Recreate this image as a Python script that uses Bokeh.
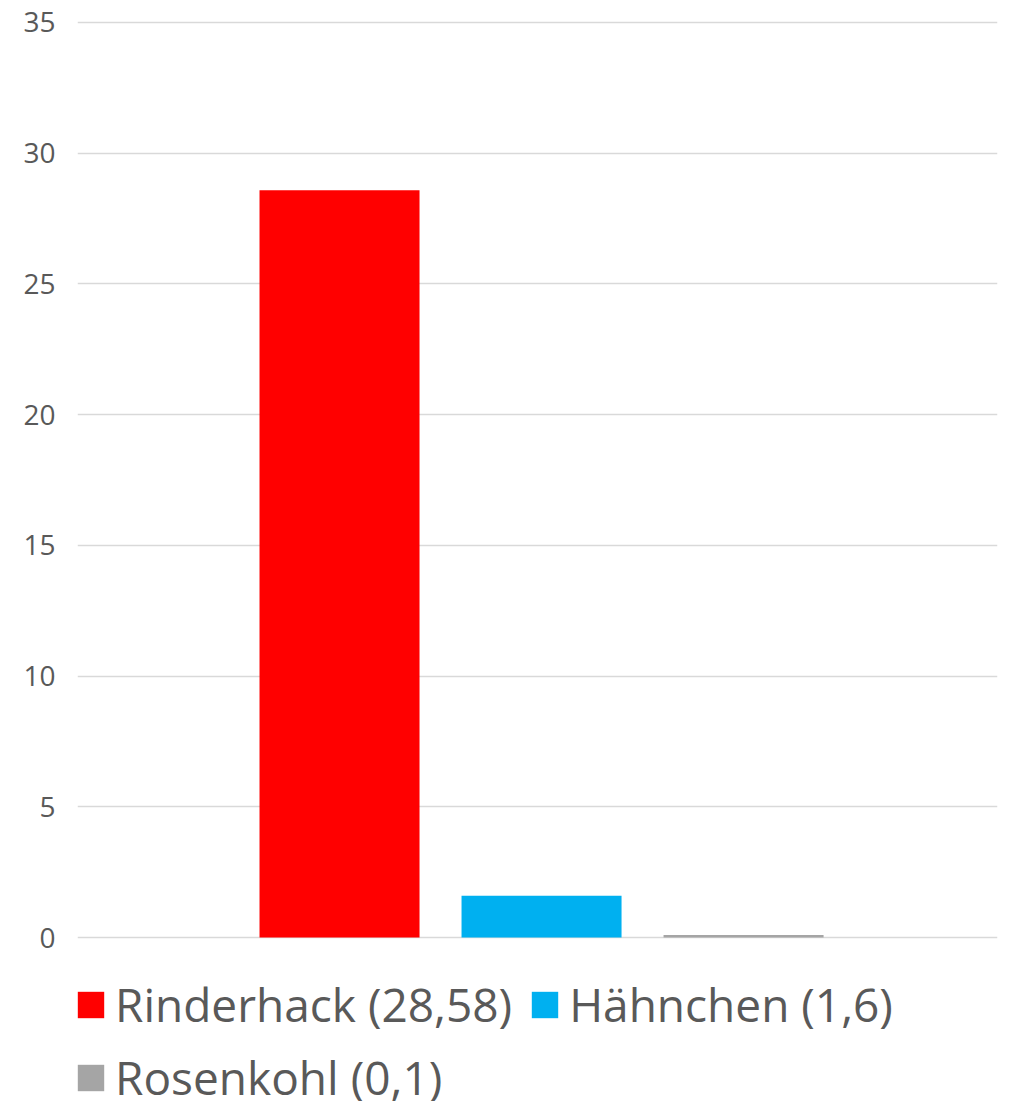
from bokeh.plotting import figure
from bokeh.models import ColumnDataSource, Range1d, FixedTicker, Legend, LegendItem
from bokeh.embed import file_html
from bokeh.resources import INLINE

series = ["Rinderhack", "Hähnchen", "Rosenkohl"]
values = [28.58, 1.6, 0.1]
value_labels = ["28,58", "1,6", "0,1"]
colors = ["#FF0000", "#00B0F0", "#A5A5A5"]
y_ticks = [0, 5, 10, 15, 20, 25, 30, 35]

FONT = "Open Sans"
TXT = "#595959"

xs = list(range(len(series)))
labels = [f"{s} ({v})" for s, v in zip(series, value_labels)]
src = ColumnDataSource(dict(x=xs, top=values, color=colors, label=labels))

p = figure(width=1000, height=1101,
           x_range=Range1d(-1.297, 3.257), y_range=Range1d(-6.273, 35.0765),
           output_backend="svg", toolbar_location=None,
           min_border_left=77, min_border_right=3,
           min_border_top=20, min_border_bottom=0)
p.outline_line_color = None
p.xaxis.visible = False
p.xgrid.grid_line_color = None
p.ygrid.grid_line_color = "#D9D9D9"
p.ygrid.grid_line_width = 1.5
p.ygrid.bounds = (-1.257, 3.257)
p.ygrid.ticker = FixedTicker(ticks=y_ticks)
p.yaxis.ticker = FixedTicker(ticks=y_ticks)
p.yaxis.axis_line_color = None
p.yaxis.major_tick_line_color = None
p.yaxis.minor_tick_line_color = None
p.yaxis.major_tick_out = 0
p.yaxis.major_tick_in = 0
p.yaxis.major_label_standoff = 22
p.yaxis.major_label_text_font = FONT
p.yaxis.major_label_text_font_size = "28px"
p.yaxis.major_label_text_color = TXT

r = p.vbar(x="x", top="top", bottom=0, width=160 / 202, fill_color="color",
           line_color=None, source=src)

def make_legend(idx, loc):
    items = [LegendItem(label=labels[i], renderers=[r], index=i) for i in idx]
    leg = Legend(items=items, location=loc, orientation="horizontal",
                 padding=0, margin=0, spacing=16, label_standoff=8,
                 glyph_width=33, glyph_height=33, label_height=33,
                 label_text_font=FONT, label_text_font_size="46px",
                 label_text_color=TXT, background_fill_alpha=0,
                 border_line_color=None, border_line_alpha=0)
    return leg

p.add_layout(make_legend([0, 1], (-3, 66)), "center")
p.add_layout(make_legend([2], (-3, -7)), "center")

open("out.html", "w").write(file_html(p, INLINE))
